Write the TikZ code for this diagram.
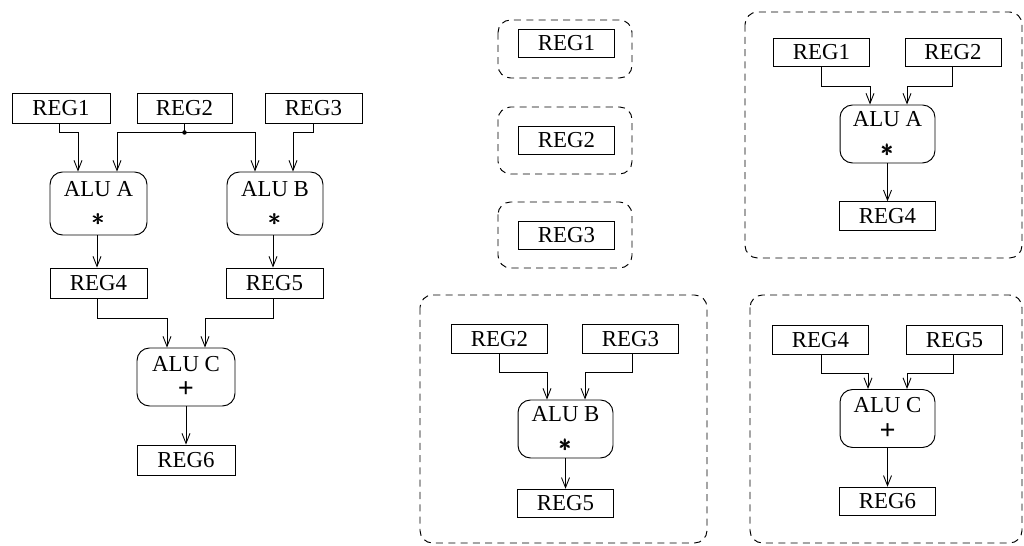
\documentclass[tikz,border=0pt]{standalone}
\usepackage{amsmath}
\usepackage{fontspec}
\setmainfont{Liberation Serif}
\usetikzlibrary{arrows.meta,calc}
\newcommand{\opmul}{{\fontsize{15}{15}\selectfont$\pmb{\ast}$}}
\newcommand{\opadd}{{\fontsize{16}{16}\selectfont\textbf{+}}}
\begin{document}
\begin{tikzpicture}[x=0.02cm,y=-0.02cm,
  every node/.style={font=\fontsize{13}{14}\selectfont},
  reg/.style={draw, line width=0.55pt, minimum width=1.92cm, minimum height=0.57cm, inner sep=0pt},
  alu/.style={draw, line width=0.55pt, rounded corners=0.25cm, minimum width=1.9cm, minimum height=1.16cm, inner sep=0pt, align=center},
  arr/.style={line width=0.5pt, -{Straight Barb[length=2mm,width=1.6mm]}},
  wire/.style={line width=0.5pt},
  group/.style={draw, dash pattern=on 4pt off 3pt, rounded corners=0.25cm, line width=0.55pt}]
\useasboundingbox (0,0) rectangle (1024,546);

% ---------- left: full dataflow graph ----------
\node[reg, minimum width=1.96cm, minimum height=0.6cm] (l1) at (61,108) {REG1};
\node[reg, minimum width=1.9cm, minimum height=0.6cm] (l2) at (184.5,108) {REG2};
\node[reg, minimum width=1.94cm, minimum height=0.6cm] (l3) at (313.5,108) {REG3};
\node[alu, minimum width=1.94cm, minimum height=1.26cm] (la) at (98.5,203.5) {ALU A\\[3pt]\opmul};
\node[alu, minimum width=1.92cm, minimum height=1.26cm] (lb) at (275,203.5) {ALU B\\[3pt]\opmul};
\node[reg, minimum width=1.94cm, minimum height=0.6cm] (l4) at (98.5,283) {REG4};
\node[reg, minimum width=1.94cm, minimum height=0.6cm] (l5) at (274.5,283) {REG5};
\node[alu, minimum width=1.96cm] (lc) at (186,377) {ALU C\\[1pt]\opadd};
\node[reg, minimum width=1.96cm, minimum height=0.6cm] (l6) at (186,460) {REG6};

\coordinate (j) at ($(l2.south)+(0,9)$);
\draw[arr] ($(l1.south)+(-2,0)$) -- ++(0,9) -| ($(la.north)+(-20.5,0)$);
\draw[wire] (l2.south) -- (j);
\fill (j) circle[radius=0.045cm];
\draw[arr] (j) -| ($(la.north)+(18.5,0)$);
\draw[arr] (j) -| ($(lb.north)+(-20,0)$);
\draw[arr] ($(l3.south)+(-0.5,0)$) -- ++(0,9) -| ($(lb.north)+(18,0)$);
\draw[arr] ($(la.south)+(-1.5,0)$) -- ($(l4.north)+(-1.5,0)$);
\draw[arr] ($(lb.south)+(-2,0)$) -- ($(l5.north)+(-1.5,0)$);
\draw[arr] ($(l4.south)+(-1.5,0)$) -- ++(0,20) -| ($(lc.north)+(-19,0)$);
\draw[arr] ($(l5.south)+(-1.5,0)$) -- ++(0,20) -| ($(lc.north)+(19,0)$);
\draw[arr] (lc.south) -- (l6.north);

% ---------- right: partitions ----------
\draw[group] (498,20) rectangle (632,78);
\node[reg] (r1) at (566.5,43.5) {REG1};
\draw[group] (498,107) rectangle (632,174);
\node[reg] (r2) at (566.5,140.5) {REG2};
\draw[group] (498,202) rectangle (632,268);
\node[reg] (r3) at (566.5,235.5) {REG3};

\draw[group] (745,12) rectangle (1022,258);
\node[reg] (a1) at (821.5,52.5) {REG1};
\node[reg] (a2) at (953,52.5) {REG2};
\node[alu] (aa) at (887.5,134) {ALU A\\[3pt]\opmul};
\node[reg] (a4) at (887.5,216) {REG4};
\draw[arr] (a1.south) -- ++(0,19) -| ($(aa.north)+(-17.5,0)$);
\draw[arr] ($(a2.south)+(-1,0)$) -- ++(0,19) -| ($(aa.north)+(19.5,0)$);
\draw[arr] (aa.south) -- (a4.north);

\draw[group] (420,295) rectangle (707,543);
\node[reg] (b2) at (499.5,339) {REG2};
\node[reg] (b3) at (630.5,339) {REG3};
\node[alu] (bb) at (565.5,429) {ALU B\\[3pt]\opmul};
\node[reg] (b5) at (565.5,503.5) {REG5};
\draw[arr] (b2.south) -- ++(0,19) -| ($(bb.north)+(-18.5,0)$);
\draw[arr] ($(b3.south)+(1.5,0)$) -- ++(0,19) -| ($(bb.north)+(19.5,0)$);
\draw[arr] (bb.south) -- (b5.north);

\draw[group] (750,295) rectangle (1022,543);
\node[reg] (c4) at (820.5,340) {REG4};
\node[reg] (c5) at (954.5,340) {REG5};
\node[alu] (cc) at (887.5,418.5) {ALU C\\[1pt]\opadd};
\node[reg] (c6) at (887.5,501.5) {REG6};
\draw[arr] ($(c4.south)+(0.5,0)$) -- ++(0,19) -| ($(cc.north)+(-19.5,0)$);
\draw[arr] ($(c5.south)+(-1.5,0)$) -- ++(0,19) -| ($(cc.north)+(19.5,0)$);
\draw[arr] (cc.south) -- (c6.north);
\end{tikzpicture}
\end{document}
